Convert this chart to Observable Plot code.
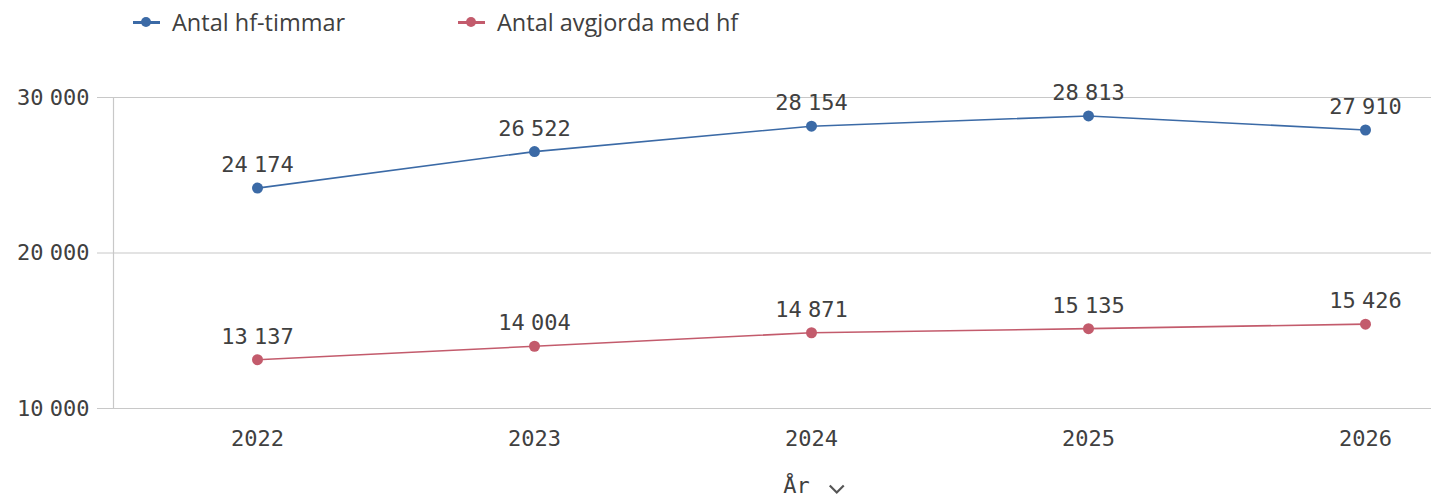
<!DOCTYPE html>
<html><head><meta charset="utf-8">
<script src="https://cdn.jsdelivr.net/npm/d3@7"></script>
<script src="https://cdn.jsdelivr.net/npm/@observablehq/plot@0.6"></script>
<style>
body{margin:0;background:#fff;}
#legend{height:45px;position:relative;font-family:"Open Sans",sans-serif;font-size:23.5px;color:#404040;}
.item{position:absolute;top:4px;display:flex;align-items:center;line-height:36px;}
.sw{width:27px;height:12px;position:relative;margin-right:12px;}
.sw .ln{position:absolute;left:0;right:0;top:4.5px;height:3px;}
.sw .dt{position:absolute;left:8px;top:1px;width:10px;height:10px;border-radius:50%;}
#chart svg{word-spacing:-7px;}
</style></head>
<body>
<div id="legend"></div>
<div id="chart"></div>
<script>
const years = [2022, 2023, 2024, 2025, 2026];
const seriesNames = ["Antal hf-timmar", "Antal avgjorda med hf"];
const hfTimmar = [24174, 26522, 28154, 28813, 27910];
const avgjorda = [13137, 14004, 14871, 15135, 15426];
const yTicks = [10000, 20000, 30000];
const colors = ["#3b6aa6", "#c35b6c"];

const data = [];
years.forEach((y, i) => {
  data.push({year: y, series: seriesNames[0], value: hfTimmar[i]});
  data.push({year: y, series: seriesNames[1], value: avgjorda[i]});
});

const fmt = v => d3.format(",")(v).replace(/,/g, " ");

// legend
const legend = document.getElementById("legend");
const legendX = [133, 458];
seriesNames.forEach((n, i) => {
  const d = document.createElement("div");
  d.className = "item";
  d.style.left = legendX[i] + "px";
  d.innerHTML = `<div class="sw"><div class="ln" style="background:${colors[i]}"></div><div class="dt" style="background:${colors[i]}"></div></div><span>${n}</span>`;
  legend.appendChild(d);
});

const mono = "'DejaVu Sans Mono', monospace";
const chart = Plot.plot({
  width: 1431,
  height: 451,
  marginTop: 52,
  marginBottom: 88,
  marginLeft: 113,
  marginRight: 0,
  style: {fontFamily: mono, fontSize: "22px", color: "#404040", background: "#fff"},
  x: {type: "point", domain: years, range: [255, 1366], padding: 0},
  y: {domain: [10000, 30000]},
  color: {domain: seriesNames, range: colors},
  marks: [
    Plot.gridY(yTicks, {stroke: "#c8c8c8", strokeOpacity: 1, strokeWidth: 1.2}),
    Plot.axisY(yTicks, {tickSize: 16, tickPadding: 8, stroke: "#c8c8c8", tickFormat: fmt, fontSize: 22, fill: "#404040", label: null}),
    Plot.frame({anchor: "left", stroke: "#c8c8c8", strokeWidth: 1.2}),
    Plot.axisX(years, {tickSize: 0, tickPadding: 22, fontSize: 22, fill: "#404040", tickFormat: d => String(d), label: "År", labelArrow: false, labelAnchor: "center", labelOffset: 84}),
    Plot.line(data, {x: "year", y: "value", z: "series", stroke: "series", strokeWidth: 1.6}),
    Plot.dot(data, {x: "year", y: "value", fill: "series", r: 5.5}),
    Plot.text(data, {x: "year", y: "value", text: d => fmt(d.value), dy: -23, fontSize: 22, fill: "#404040"})
  ]
});
document.getElementById("chart").appendChild(chart);
// shift axis label and add chevron after it
const svgRect = chart.getBoundingClientRect();
d3.select(chart).selectAll("text").filter(function(){ return this.textContent === "År"; }).each(function(){
  d3.select(this).attr("dx", 24);
  const r = this.getBoundingClientRect();
  const x = r.right - svgRect.left + 20;
  const y = r.top - svgRect.top + r.height / 2 + 1;
  d3.select(chart).append("path")
    .attr("d", `M${x},${y} l7,7 l7,-7`)
    .attr("fill", "none").attr("stroke", "#555").attr("stroke-width", 2.2);
});
</script>
</body></html>
